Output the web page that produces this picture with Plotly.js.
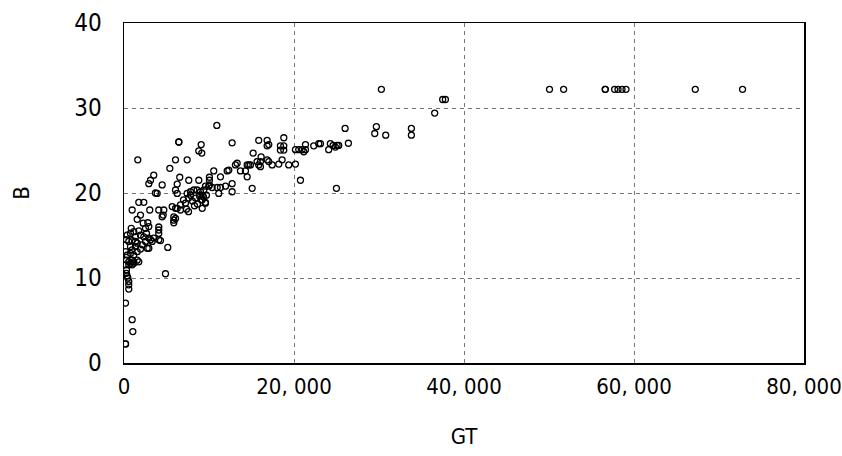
<!DOCTYPE html>
<html>
<head>
<meta charset="utf-8">
<script src="https://cdn.plot.ly/plotly-3.0.1.min.js"></script>
<style>
html,body{margin:0;padding:0;background:#fff;}
#chart{width:842px;height:456px;}
#chart text{font-stretch:condensed;}
</style>
</head>
<body>
<div id="chart"></div>
<script>
// GT (gross tonnage) and B (breadth)
const gtValues = [
  30280, 50060, 51720, 56620, 56620, 57720, 58120, 58590, 59060, 67210, 72770,
  37490, 37810, 36550, 26010, 29690, 29500, 30790, 33810, 33810,
  24280, 24600, 25070, 25260, 24080, 24870, 26400, 24990, 10920,
  9080, 8800, 9150, 12720, 15850, 16840, 18800, 17030, 16840, 18400, 18800, 18400, 18800,
  20170, 20560, 20960, 21350, 21350, 21150, 22320, 22910, 23110,
  15190, 16130, 15660, 16050, 15850, 16050, 16840, 17030,
  17430, 18210, 18600, 19380, 20170, 14680, 14880, 14490,
  13110, 13310, 13700, 14290, 12140, 12330, 10560, 11350, 12720, 14490, 15080, 20760,
  10050, 10050, 10050, 9580, 9970, 10370, 10960, 11350, 11940, 11150, 12720,
  9200, 9200, 9580, 9200,
  6450, 6450, 1620, 6060, 7430, 5390, 3500, 3120, 2920, 4490, 6260, 6560, 7620, 8800,
  3700, 3900, 6060, 6260, 7430, 7820, 8210, 8600, 9000, 9390,
  6260, 6640, 7000, 7230, 7590, 7820, 8050, 8410, 8640, 8880, 9110, 9350, 9580, 9700, 7350, 8290, 6640, 7590,
  960, 1740, 2330, 1940, 4090, 4680, 4490, 5860, 5670, 6060,
  3030, 1550, 2260, 2800, 4610, 5860, 5860, 6060, 4090, 4090, 4090,
  850, 1150, 1740, 2530, 2650, 2920, 370, 760, 1350, 1940, 2330,
  290, 560, 960, 1350, 1550, 2140, 2530, 2920, 3120, 3310, 3500, 4090, 4290,
  760, 960, 1350, 1550, 1940, 2730, 2920, 5150,
  180, 370, 760, 1150, 290, 560, 960, 1150, 1550, 1740,
  180, 560, 760, 960, 1150,
  290, 290, 370, 450, 560, 560, 560, 4880, 180, 960, 1040, 180, 180
];
const bValues = [
  32.2, 32.2, 32.2, 32.2, 32.2, 32.2, 32.2, 32.2, 32.2, 32.2, 32.2,
  31.0, 31.0, 29.4, 27.6, 27.8, 27.0, 26.8, 27.6, 26.8,
  25.8, 25.6, 25.6, 25.6, 25.1, 25.4, 25.85, 20.55, 27.95,
  25.7, 24.95, 24.7, 25.9, 26.2, 26.2, 26.5, 25.7, 25.55, 25.55, 25.55, 25.05, 25.05,
  25.1, 25.1, 25.1, 25.1, 25.7, 24.85, 25.55, 25.8, 25.8,
  24.7, 24.25, 23.7, 23.7, 23.3, 23.1, 23.9, 23.7,
  23.3, 23.4, 23.9, 23.3, 23.4, 23.3, 23.3, 23.3,
  23.3, 23.5, 22.6, 22.6, 22.6, 22.7, 22.6, 21.9, 21.1, 21.9, 20.55, 21.5,
  21.85, 21.5, 20.95, 20.8, 20.8, 20.65, 20.65, 20.65, 20.8, 19.95, 20.15,
  19.75, 19.2, 18.9, 18.2,
  26.0, 26.0, 23.9, 23.9, 23.9, 22.9, 22.1, 21.5, 21.1, 20.95, 21.05, 21.85, 21.5, 21.5,
  20.0, 19.95, 20.35, 19.95, 19.95, 20.15, 20.35, 20.35, 20.15, 20.35,
  18.2, 18.6, 19.2, 18.8, 19.4, 19.75, 19.05, 19.4, 18.7, 19.65, 19.2, 19.55, 18.8, 19.75, 18.1, 18.5, 18.0, 17.8,
  18.0, 18.9, 18.9, 17.4, 18.0, 18.0, 17.2, 17.2, 18.4, 18.2,
  18.0, 16.9, 16.45, 16.5, 17.4, 16.8, 16.5, 17.0, 16.0, 15.65, 15.25,
  15.85, 15.45, 15.55, 15.85, 15.25, 16.05, 15.05, 15.25, 14.85, 15.05, 14.85,
  14.5, 14.3, 14.4, 14.3, 14.1, 13.9, 14.3, 14.7, 14.5, 14.3, 14.7, 14.5, 14.4,
  13.7, 13.3, 13.7, 13.1, 13.4, 13.5, 13.5, 13.6,
  13.1, 12.7, 12.9, 12.7, 12.1, 11.9, 12.1, 11.9, 12.1, 11.9,
  11.55, 11.55, 11.75, 11.55, 11.75,
  10.95, 10.55, 10.25, 10.0, 9.6, 9.2, 8.7, 10.5, 7.05, 5.1, 3.7, 2.25, 2.25
];
const xTickVals = [0, 20000, 40000, 60000, 80000];
const xTickText = ['0', '20, 000', '40, 000', '60, 000', '80, 000'];
const yTickVals = [0, 10, 20, 30, 40];
const yTickText = ['0', '10', '20', '30', '40'];

const FONT = '"DejaVu Sans", sans-serif';

const trace = {
  type: 'scatter', mode: 'markers',
  x: gtValues, y: bValues,
  marker: {symbol: 'circle-open', size: 6, color: '#000', line: {width: 1.3, color: '#000'}},
  hoverinfo: 'x+y'
};

const layout = {
  width: 842, height: 456,
  margin: {l: 123.5, r: 38.3, t: 22.7, b: 92.7},
  paper_bgcolor: '#fff', plot_bgcolor: '#fff',
  showlegend: false,
  font: {family: FONT, color: '#000', size: 22},
  xaxis: {
    range: [0, 80000], autorange: false,
    tickvals: xTickVals, ticktext: xTickText,
    showline: true, mirror: true, linecolor: '#000', linewidth: 1.5,
    showgrid: true, gridcolor: '#777', griddash: '4px,4px', gridwidth: 1,
    zeroline: false, ticks: '', ticklabelstandoff: 3, ticklabeloverflow: 'allow',
    tickfont: {family: FONT, size: 22, color: '#000'},
    title: {text: 'GT', font: {family: FONT, size: 22, color: '#000'}, standoff: 30}
  },
  yaxis: {
    range: [0, 40], autorange: false,
    tickvals: yTickVals, ticktext: yTickText,
    showline: true, mirror: true, linecolor: '#000', linewidth: 1.5,
    showgrid: true, gridcolor: '#777', griddash: '4px,4px', gridwidth: 1,
    zeroline: false, ticks: '', ticklabelstandoff: 16,
    tickfont: {family: FONT, size: 24, color: '#000'},
    title: {text: 'B', font: {family: FONT, size: 22, color: '#000'}, standoff: 35}
  }
};

Plotly.newPlot('chart', [trace], layout, {displayModeBar: false, staticPlot: true});
</script>
</body>
</html>
